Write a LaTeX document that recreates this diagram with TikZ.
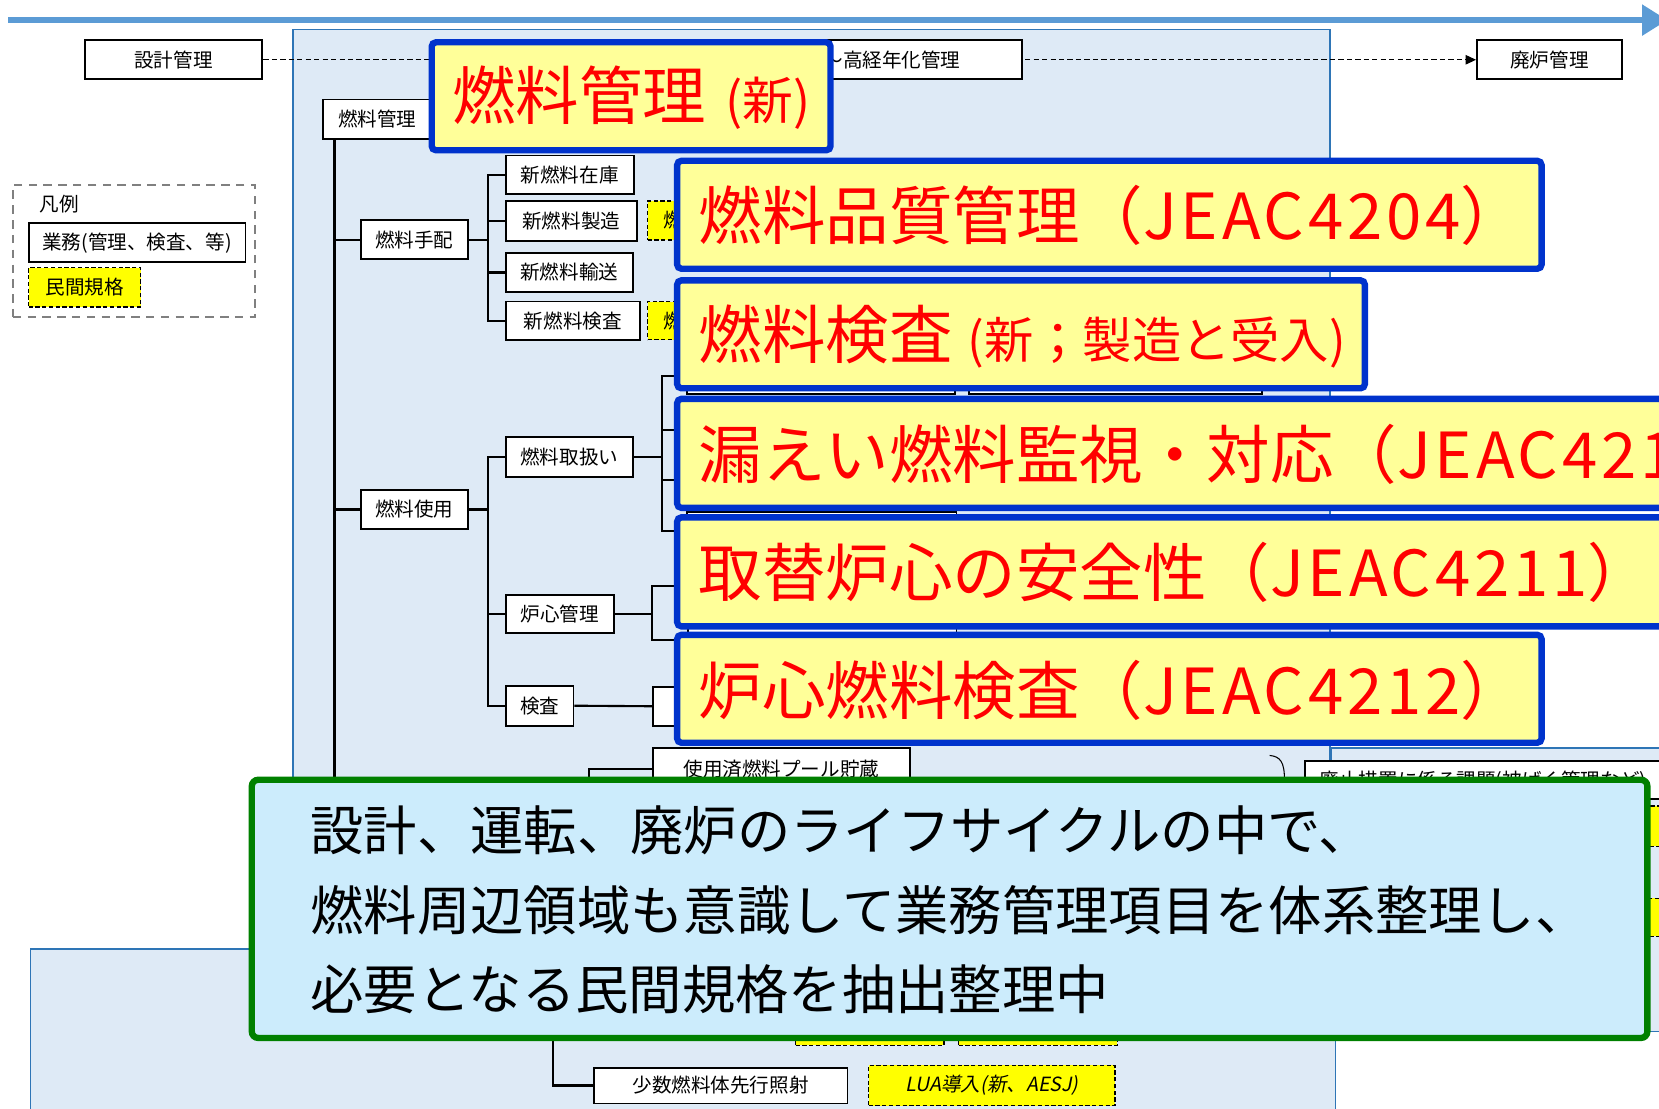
\documentclass[tikz,border=0pt]{standalone}
\usepackage{fontspec}
\setmainfont{Noto Sans CJK JP}
\newfontfamily\jpit[FakeSlant=0.2]{Noto Sans CJK JP}
\newfontfamily\jplat[LetterSpace=6]{Noto Sans CJK JP}
\usetikzlibrary{arrows.meta}
\definecolor{panelfill}{RGB}{222,234,246}
\definecolor{paneldraw}{RGB}{46,117,182}
\definecolor{arrowblue}{RGB}{91,155,213}
\definecolor{hlfill}{RGB}{255,255,153}
\definecolor{hldraw}{RGB}{0,51,204}
\definecolor{hlred}{RGB}{255,0,0}
\definecolor{gfill}{RGB}{204,236,252}
\definecolor{gdraw}{RGB}{0,128,0}
\definecolor{stdyellow}{RGB}{255,255,0}
\newcommand\bx[7]{\node[#6, minimum width={(#4-#2)*0.5pt}, minimum height={(#5-#3)*0.5pt}] (#1) at ({(#2+#4)/2},{(#3+#5)/2}) {#7};}
\tikzset{
  lab/.style={font=\fontsize{9.25pt}{11pt}\selectfont},
  wbox/.style={draw=black, fill=white, line width=0.9pt, inner sep=0pt, lab},
  stdbox/.style={draw=black, fill=stdyellow, dash pattern=on 2pt off 1.2pt, line width=0.7pt, inner sep=0pt, lab},
  legendbox/.style={draw=gray, dash pattern=on 4pt off 3pt, line width=1pt, inner sep=0pt},
  hlbox/.style={draw=hldraw, fill=hlfill, line width=3pt, rounded corners=2pt, inner sep=0pt},
  panel/.style={draw=paneldraw, fill=panelfill, line width=0.7pt, inner sep=0pt},
  greenbox/.style={draw=gdraw, fill=gfill, line width=3pt, rounded corners=3pt, inner sep=0pt},
  conn/.style={draw=black, line width=1pt},
  redtxt/.style={text=hlred, font=\fontsize{30pt}{36pt}\selectfont, inner sep=0pt, anchor=base west},
  gtxt/.style={text=black, font=\fontsize{25.2pt}{30pt}\selectfont, inner sep=0pt, anchor=base west},
}
\newcommand\midsz{\fontsize{23.3pt}{28pt}\selectfont}
\begin{document}
\begin{tikzpicture}[x=0.5pt,y=-0.5pt]
\useasboundingbox (0,0) rectangle (1568,1048);
% panels
\bx{rpanel}{1258}{707}{1580}{975}{panel}{}
\bx{mpanel}{277}{28}{1257}{897}{panel}{}
\bx{lpanel}{29}{897}{1262}{1060}{panel}{}
% timeline arrow
\coordinate (tlA) at (8,19);
\coordinate (tlB) at (1576,19);
\draw[arrowblue, line width=3pt, -{Triangle[length=12pt,width=14pt]}] (tlA) -- (tlB);
% top row
\bx{sekkei}{80}{38}{248}{75}{wbox}{設計管理}
\bx{hairo}{1396}{38}{1533}{75}{wbox}{廃炉管理}
\draw[line width=0.6pt, dash pattern=on 2.5pt off 1.5pt, -{Triangle[length=5pt,width=4.5pt]}] (sekkei.east) -- (hairo.west);
\bx{kokei}{720}{38}{966}{75}{wbox}{～高経年化管理}
% legend
\bx{legend}{12}{175}{241}{300}{legendbox}{}
\node[lab, anchor=west, inner sep=0pt] (hanrei) at (37,193) {凡例};
\bx{lgyomu}{27}{211}{232}{248}{wbox}{業務(管理、検査、等)}
\bx{lminkan}{27}{253}{133}{290}{stdbox}{民間規格}
% tree
\bx{fm}{305}{94}{408}{131}{wbox}{燃料管理}
\bx{tehai}{341}{208}{442}{245}{wbox}{燃料手配}
\bx{zaiko}{478}{147}{599}{183}{wbox}{新燃料在庫}
\bx{seizo}{478}{190}{602}{228}{wbox}{新燃料製造}
\bx{yuso}{478}{239}{598}{276}{wbox}{新燃料輸送}
\bx{nkensa}{478}{285}{605}{321}{wbox}{新燃料検査}
\bx{std1}{612}{190}{720}{227}{stdbox}{}
\bx{std2}{612}{285}{720}{321}{stdbox}{}
\node[lab, anchor=west, inner sep=0pt] (std1t) at (627,208) {燃};
\node[lab, anchor=west, inner sep=0pt] (std2t) at (627,303) {燃};
\bx{shiyo}{341}{463}{442}{500}{wbox}{燃料使用}
\bx{toriatsu}{478}{413}{598}{451}{wbox}{燃料取扱い}
\bx{roshin}{478}{562}{580}{598}{wbox}{炉心管理}
\bx{kensa}{478}{648}{542}{686}{wbox}{検査}
% hidden boxes behind highlights
\bx{hA}{649}{335}{903}{372}{wbox}{}
\bx{hB}{916}{335}{1193}{372}{wbox}{}
\bx{hC}{649}{484}{904}{520}{wbox}{}
\bx{hD}{650}{594}{904}{640}{wbox}{}
\bx{hE}{617}{649}{720}{686}{wbox}{}
\bx{pool}{617}{707}{860}{747}{wbox}{使用済燃料プール貯蔵}
\bx{haishi}{1233}{719}{1580}{755}{wbox}{}
\node[lab, anchor=west, inner sep=0pt] (haishit) at (1247,738) {廃止措置に係る課題(被ばく管理など)};
\bx{rs1}{1559}{762}{1600}{800}{stdbox}{}
\bx{rs2}{1559}{849}{1600}{885}{stdbox}{}
\draw[line width=0.5pt] (1200,714) .. controls (1210,715) and (1214,720) .. (1214,737);
% connectors
\coordinate (trunk) at ([xshift=6pt]fm.south west);
\draw[conn] (trunk) -- ++(0,612);
\draw[conn] (trunk) |- (tehai.west);
\draw[conn] (trunk) |- (shiyo.west);
\draw[conn] (tehai.east) -- ++(18,0) coordinate (tb);
\foreach \n in {zaiko,seizo,yuso,nkensa} \draw[conn] (tb) |- (\n.west);
\draw[conn] (shiyo.east) -- ++(18,0) coordinate (sb);
\foreach \n in {toriatsu,roshin,kensa} \draw[conn] (sb) |- (\n.west);
\draw[conn] (toriatsu.east) -- ++(27,0) coordinate (ob);
\coordinate (o1) at (642,355);
\coordinate (o2) at (642,406);
\coordinate (o3) at (642,454);
\coordinate (o4) at (642,502);
\foreach \n in {o1,o2,o3,o4} \draw[conn] (ob) |- (\n);
\draw[conn] (roshin.east) -- ++(35,0) coordinate (rb);
\coordinate (r1) at (642,554);
\coordinate (r2) at (642,605);
\foreach \n in {r1,r2} \draw[conn] (rb) |- (\n);
\draw[conn] (kensa.east) -- (hE.west);
\coordinate (pb) at (557,760);
\draw[conn] (pool.west) -| (pb);
% highlight boxes
\bx{h1}{408}{40}{785}{142}{hlbox}{}
\node[redtxt] (t1) at (427,113) {燃料管理\hspace{9pt}{\fontsize{24pt}{28pt}\selectfont (新)}};
\bx{h2}{640}{152}{1457}{254}{hlbox}{}
\node[redtxt] (t2) at (660,226) {燃料品質管理（{\jplat JEAC4204}）};
\bx{h3}{640}{265}{1290}{367}{hlbox}{}
\node[redtxt] (t3) at (660,339) {燃料検査\hspace{7pt}{\midsz (新；製造と受入)}};
\bx{h4}{640}{377}{1600}{480}{hlbox}{}
\node[redtxt] (t4) at (660,452) {漏えい燃料監視・対応（{\jplat JEAC421}};
\bx{h5}{640}{489}{1600}{592}{hlbox}{}
\node[redtxt] (t5) at (660,564) {取替炉心の安全性（{\jplat JEAC4211}）};
\bx{h6}{640}{600}{1457}{702}{hlbox}{}
\node[redtxt] (t6) at (660,675) {炉心燃料検査（{\jplat JEAC4212}）};
% lower panel
\bx{ls1}{752}{950}{892}{988}{stdbox}{}
\bx{ls2}{906}{950}{1056}{988}{stdbox}{}
\bx{shosu}{561}{1009}{801}{1043}{wbox}{少数燃料体先行照射}
\bx{lua}{821}{1007}{1054}{1045}{stdbox}{\jpit LUA導入(新、AESJ)}
\coordinate (lt) at (523,960);
\draw[conn] (lt) |- (shosu.west);
% green message box
\bx{gbox}{238}{737}{1557}{981}{greenbox}{}
\node[gtxt] (g1) at (293,804) {設計、運転、廃炉のライフサイクルの中で、};
\node[gtxt] (g2) at (293,879) {燃料周辺領域も意識して業務管理項目を体系整理し、};
\node[gtxt] (g3) at (293,954) {必要となる民間規格を抽出整理中};
\end{tikzpicture}
\end{document}
